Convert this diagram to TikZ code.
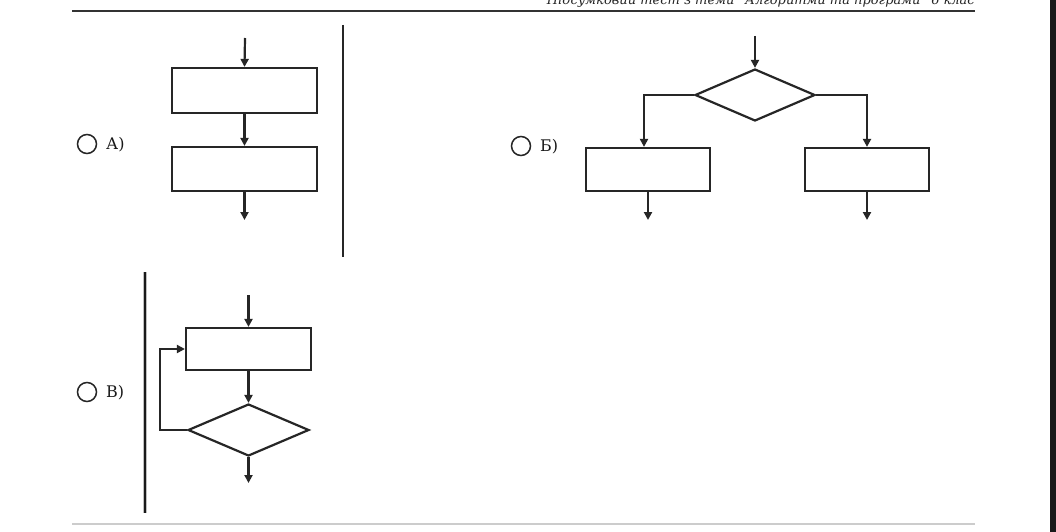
\documentclass[tikz,border=0pt]{standalone}
\usepackage{fontspec}
\setmainfont{DejaVu Serif}
\usetikzlibrary{arrows.meta,shapes.geometric}
\definecolor{ln}{HTML}{262626}
\tikzset{
  proc/.style={draw=ln,line width=2.2pt,rectangle,inner sep=0pt,fill=white},
  cond/.style={draw=ln,line width=2.2pt,diamond,inner sep=0pt,fill=white},
  flow/.style={draw=ln,line width=2.2pt,-{Triangle[width=8pt,length=8pt]}},
  choice/.style={circle,draw=ln,line width=1.5pt,minimum size=19pt,inner sep=0pt},
  lbl/.style={anchor=west,font=\fontsize{16}{19}\selectfont,text=black!90,inner sep=0pt}
}
\begin{document}
\begin{tikzpicture}[x=1pt,y=-1pt]
\useasboundingbox (0,0) rectangle (1056,532);
\fill[white] (0,0) rectangle (1056,532);
\fill[black!90] (1050,0) rectangle (1056,532);
% header (cut off at the top edge, as in the reference)
\begin{scope}
\clip (0,0) rectangle (1056,532);
\node[anchor=base east,inner sep=0pt,font=\itshape\fontsize{13}{15}\selectfont,text=black!85] (hdr) at (975,5) {Підсумковий тест з теми "Алгоритми та програми" 6 клас};
\end{scope}
\draw[line width=1.5pt,black!80] (72,11) -- (975,11);
\draw[line width=1.5pt,black!20] (72,524) -- (975,524);
% separators
\draw[line width=1.8pt,black!85] (343,25) -- (343,257);
\draw[line width=4pt,black!25] (145,272) -- (145,513);
\draw[line width=1.4pt,black!90] (145,272) -- (145,513);

% ---- A
\node[choice] (ca) at (87,144) {};
\node[lbl] (ta) at (106,145) {А)};
\coordinate (a0) at (245,38);
\node[proc,minimum width=145pt,minimum height=45pt] (a1) at (244.5,90.5) {};
\node[proc,minimum width=145pt,minimum height=44pt] (a2) at (244.5,169) {};
\coordinate (a3) at (244.5,220);
\draw[flow] (a0) -- (a1.north);
\draw[flow] (a1.south) -- (a2.north);
\draw[flow] (a2.south) -- (a3);

% ---- B
\node[choice] (cb) at (521,146) {};
\node[lbl] (tb) at (540,147) {Б)};
\coordinate (b0) at (755,36);
\node[cond,minimum width=120pt,minimum height=52pt] (bd) at (755,95) {};
\node[proc,minimum width=124pt,minimum height=43pt] (bl) at (648,169.5) {};
\node[proc,minimum width=124pt,minimum height=43pt] (br) at (867,169.5) {};
\coordinate (bl1) at (648,220);
\coordinate (br1) at (867,220);
\draw[flow] (b0) -- (bd.north);
\draw[flow] (bd.west) -| ([xshift=-4pt]bl.north);
\draw[flow] (bd.east) -| (br.north);
\draw[flow] (bl.south) -- (bl1);
\draw[flow] (br.south) -- (br1);

% ---- C
\node[choice] (cc) at (87,392) {};
\node[lbl] (tc) at (106,393) {В)};
\coordinate (c0) at (248.5,295);
\node[proc,minimum width=125pt,minimum height=42pt] (cbx) at (248.5,349) {};
\node[cond,minimum width=121pt,minimum height=52pt] (cd) at (248.5,430) {};
\coordinate (c1) at (248.5,483);
\draw[flow] (c0) -- (cbx.north);
\draw[flow] (cbx.south) -- (cd.north);
\draw[flow] (cd.south) -- (c1);
\draw[flow] (cd.west) -- ++(-27,0) |- (cbx.west);
\end{tikzpicture}
\end{document}
